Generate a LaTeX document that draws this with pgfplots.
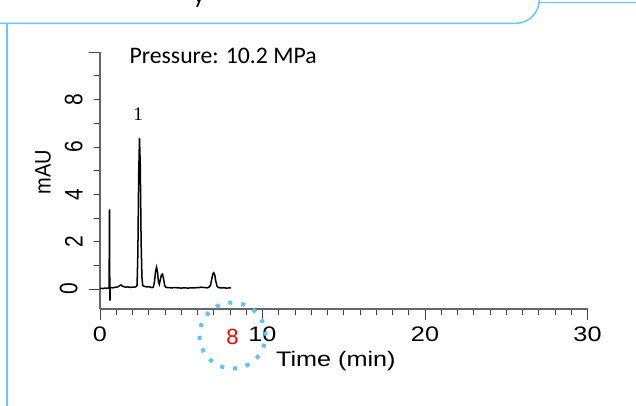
\documentclass[border=0pt]{standalone}
\usepackage{pgfplots}
\usepackage{pgfplotstable}
\pgfplotsset{compat=1.18}
\usepackage{fontspec}
\setmainfont{Liberation Sans}
\newfontfamily\axfont[FakeStretch=1.2]{Liberation Sans}
\newfontfamily\carlito{Carlito}
\newfontfamily\serifnum{Liberation Serif}
\definecolor{frameblue}{RGB}{100,200,250}
\definecolor{dotblue}{RGB}{95,195,245}
\newcommand\xl[1]{{\axfont\fontsize{10.5}{12}\selectfont #1}}
\newcommand\yl[1]{\scalebox{1}[1.2]{\fontsize{10.5}{12}\selectfont #1}}

\pgfplotstableread{
t v
0.00 0.02
0.10 0.03
0.20 0.02
0.30 0.04
0.40 0.03
0.50 0.04
0.56 0.05
0.585 3.37
0.60 0.50
0.615 -0.49
0.63 0.05
0.70 0.06
0.80 0.05
0.90 0.07
1.00 0.08
1.10 0.09
1.20 0.14
1.29 0.17
1.38 0.12
1.50 0.09
1.60 0.08
1.70 0.09
1.80 0.08
1.90 0.07
2.00 0.08
2.10 0.08
2.20 0.09
2.28 0.15
2.33 1.50
2.38 4.80
2.43 6.37
2.48 5.20
2.53 2.00
2.58 0.50
2.63 0.15
2.70 0.12
2.80 0.10
2.90 0.09
3.00 0.10
3.10 0.08
3.20 0.06
3.28 0.08
3.35 0.30
3.42 0.75
3.48 0.92
3.54 0.70
3.60 0.30
3.65 0.20
3.70 0.35
3.78 0.60
3.85 0.63
3.92 0.40
3.98 0.15
4.05 0.07
4.20 0.06
4.40 0.05
4.60 0.06
4.80 0.05
5.00 0.04
5.20 0.05
5.40 0.04
5.60 0.05
5.80 0.05
6.00 0.06
6.10 0.06
6.20 0.08
6.30 0.07
6.50 0.06
6.60 0.05
6.70 0.08
6.80 0.15
6.87 0.40
6.95 0.65
7.00 0.69
7.06 0.60
7.12 0.35
7.20 0.12
7.30 0.06
7.40 0.05
7.60 0.05
7.80 0.04
8.05 0.05
}\trace

\begin{document}
\begin{tikzpicture}
\begin{axis}[
  scale only axis,
  width=243.75pt, height=128.35pt,
  xmin=0, xmax=30, ymin=-0.845, ymax=10,
  axis x line=bottom, axis y line=left,
  axis line style={-, draw=black!60, line width=0.6pt},
  tick align=outside,
  major tick length=5.5pt, minor tick length=3pt,
  tick style={black!75, line width=0.5pt},
  xtick={0,10,20,30}, xticklabels={\xl{0},\xl{10},\xl{20},\xl{30}},
  minor xtick={1,...,29},
  ytick={0,10}, yticklabels={\yl{0},{}},
  minor ytick={1,3,5,7,9},
  extra y ticks={2,4,6,8}, extra y tick labels={\yl{2},\yl{4},\yl{6},\yl{8}},
  extra y tick style={major tick length=3pt},
  yticklabel style={xshift=-5.5pt, rotate=90, anchor=south, inner sep=0pt},
  xticklabel style={yshift=-10.5pt, anchor=base, inner sep=0pt},
  xlabel={\xl{Time (min)}},
  xlabel style={at={(axis description cs:0.4837,0)}, anchor=base, yshift=-28.5pt, inner sep=0pt},
  ylabel={\scalebox{1}[1.12]{\fontsize{10}{12}\selectfont mAU}},
  ylabel style={at={(axis description cs:-0.1169,0.5337)}, anchor=center, inner sep=0pt},
  clip=false,
]
\addplot[black, line width=0.75pt] table[x=t, y=v] {\trace};
% page frame (reference picture size)
\path (axis cs:-6.1538,12.211) rectangle (axis cs:32.985,-4.901);
% decorative frame of the slide
\draw[overlay, frameblue, line width=0.75pt] (axis cs:-6.2,11.226) -- (axis cs:25.600,11.226) .. controls (axis cs:26.382,11.226) and (axis cs:27.034,11.666) .. (axis cs:27.034,12.232);
\draw[overlay, frameblue, line width=0.75pt] (axis cs:27.034,12.097) -- (axis cs:33.015,12.097);
\draw[overlay, frameblue, line width=0.85pt] (axis cs:-5.7046,11.226) -- (axis cs:-5.7046,-4.922);
\node[overlay, anchor=base, inner sep=0, font=\carlito\fontsize{12}{14}\selectfont] at (axis cs:6.0923,12.063) {y};
\node[anchor=base west, inner sep=0, font=\carlito\fontsize{11.85}{14}\selectfont] at (axis cs:1.8031,9.5365) {Pressure: 10.2 MPa};
\node[anchor=base, inner sep=0, font=\serifnum\fontsize{9.5}{11}\selectfont] at (axis cs:2.3385,7.128) {1};
\node[anchor=base, inner sep=0, text=red, font=\fontsize{11}{13}\selectfont] at (axis cs:8.1538,-2.3366) {8};
\draw[overlay, dotblue, line width=2pt, dash pattern=on 2pt off 4.5pt] (axis cs:8.1538,-1.9648) circle[radius=16.5pt];
\end{axis}
\end{tikzpicture}
\end{document}
